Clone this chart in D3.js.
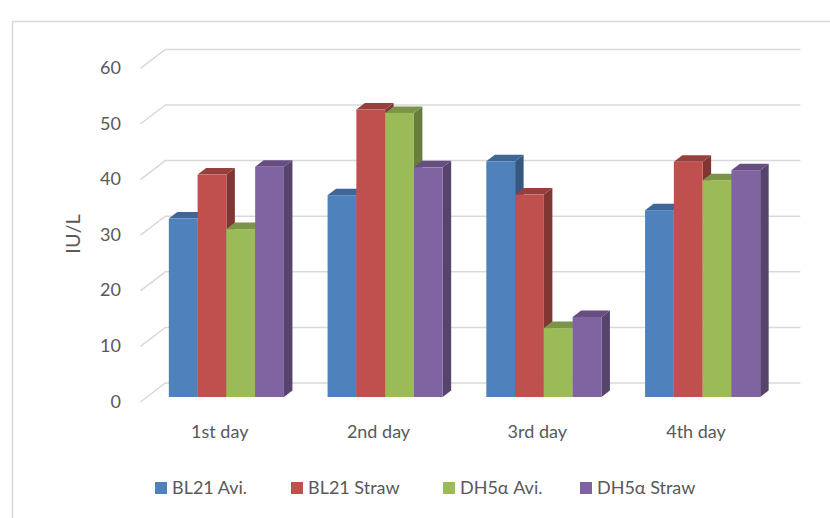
<!DOCTYPE html>
<html>
<head>
<meta charset="utf-8">
<script src="https://cdn.jsdelivr.net/npm/d3@7"></script>
<style>
  body { margin: 0; background: #fff; }
  text { font-family: Lato, "Open Sans", sans-serif; fill: #595959; }
</style>
</head>
<body>
<svg id="chart" width="830" height="518"></svg>
<script>
var days = ['1st day', '2nd day', '3rd day', '4th day'];
var series = ['BL21 Avi.', 'BL21 Straw', 'DH5\u03b1 Avi.', 'DH5\u03b1 Straw'];
var colors = ['#4f81bd', '#c0504d', '#9bbb59', '#8064a2'];
var bl21Avi = [32.1, 36.3, 42.4, 33.6];
var bl21Straw = [40.0, 51.7, 36.4, 42.3];
var dh5aAvi = [30.2, 51.1, 12.4, 39.0];
var dh5aStraw = [41.4, 41.3, 14.4, 40.8];
var yTicks = [0, 10, 20, 30, 40, 50, 60];

var values = [bl21Avi, bl21Straw, dh5aAvi, dh5aStraw];

var svg = d3.select('#chart');

// outer chart border
svg.append('rect')
    .attr('x', 12.5).attr('y', 21.5)
    .attr('width', 840).attr('height', 520)
    .attr('fill', 'none').attr('stroke', '#d9d9d9').attr('stroke-width', 1.5);

// bar plane scales, back wall is shifted up-right, floor front down-left
var back = {dx: 18.4, dy: -14},
    front = {dx: -6.6, dy: 5},
    depth = {dx: 8.5, dy: -6.5};

var y = d3.scaleLinear().domain([0, 60]).range([397, 397 - 333.6]);
var x0 = d3.scaleBand().domain(days).range([147, 782]);
var groupW = x0.bandwidth() * 0.725;
var x1 = d3.scaleBand().domain(series).range([0, groupW]);
var groupOff = (x0.bandwidth() - groupW) / 2;

var x0start = x0.range()[0], x0end = x0.range()[1];

// gridlines
var grid = svg.append('g');
yTicks.forEach(function(v){
    grid.append('path')
        .attr('d', 'M' + (x0start + front.dx) + ',' + (y(v) + front.dy) +
                   'L' + (x0start + back.dx) + ',' + (y(v) + back.dy) +
                   'L' + (x0end + back.dx) + ',' + (y(v) + back.dy))
        .attr('fill', 'none').attr('stroke', '#d9d9d9').attr('stroke-width', 1.5);
    grid.append('text')
        .attr('x', 121).attr('y', y(v) + front.dy + 1)
        .attr('text-anchor', 'end').attr('dominant-baseline', 'middle')
        .style('font-size', '18px')
        .text(v);
});

// y axis title
svg.append('text')
    .attr('transform', 'translate(75,234) rotate(-90)')
    .attr('text-anchor', 'middle').attr('dominant-baseline', 'middle')
    .style('font-size', '20px')
    .text('IU/L');

// bars
var bars = svg.append('g');
days.forEach(function(day, i){
    series.forEach(function(s, j){
        var v = values[j][i];
        var bx = x0(day) + groupOff + x1(s),
            bw = x1.bandwidth(),
            top = y(v), bot = y(0);
        var c = d3.color(colors[j]);
        var g = bars.append('g');
        g.append('path')
            .attr('d', 'M' + (bx + bw) + ',' + top +
                       'L' + (bx + bw + depth.dx) + ',' + (top + depth.dy) +
                       'L' + (bx + bw + depth.dx) + ',' + (bot + depth.dy) +
                       'L' + (bx + bw) + ',' + bot + 'Z')
            .attr('fill', c.darker(1.1));
        g.append('path')
            .attr('d', 'M' + bx + ',' + top +
                       'L' + (bx + depth.dx) + ',' + (top + depth.dy) +
                       'L' + (bx + bw + depth.dx) + ',' + (top + depth.dy) +
                       'L' + (bx + bw) + ',' + top + 'Z')
            .attr('fill', c.darker(0.65));
        g.append('rect')
            .attr('x', bx).attr('y', top)
            .attr('width', bw).attr('height', bot - top)
            .attr('fill', c);
    });
});

// category labels
days.forEach(function(day){
    svg.append('text')
        .attr('x', x0(day) + x0.bandwidth() / 2 + front.dx)
        .attr('y', 433)
        .attr('text-anchor', 'middle').attr('dominant-baseline', 'middle')
        .style('font-size', '18px')
        .text(day);
});

// legend
var legendX = [155, 291, 443, 580];
var legend = svg.append('g');
series.forEach(function(s, j){
    legend.append('rect')
        .attr('x', legendX[j]).attr('y', 482)
        .attr('width', 12).attr('height', 12)
        .attr('fill', colors[j]);
    legend.append('text')
        .attr('x', legendX[j] + 17).attr('y', 489)
        .attr('dominant-baseline', 'middle')
        .style('font-size', '18px')
        .text(s);
});
</script>
</body>
</html>
